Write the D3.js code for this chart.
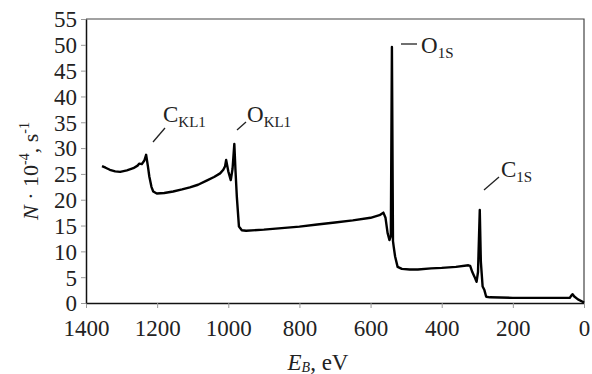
<!DOCTYPE html>
<html>
<head>
<meta charset="utf-8">
<script src="https://cdn.jsdelivr.net/npm/d3@7"></script>
<style>
  body { margin: 0; background: #fff; }
  text { font-family: "Liberation Serif", "Times New Roman", serif; fill: #222; }
</style>
</head>
<body>
<svg id="chart" width="592" height="374"></svg>
<script>
// XPS survey spectrum, binding energy (eV) vs counts (x10^4 /s)
const energy = [1355, 1345, 1333, 1318, 1304, 1285, 1267, 1255, 1250, 1243, 1236, 1231, 1226, 1222, 1216, 1211, 1201, 1180, 1155, 1130, 1108, 1085, 1061, 1040, 1023, 1014, 1009, 1006, 1000, 993, 988, 983, 980, 976, 970, 962, 950, 900, 850, 800, 750, 700, 650, 600, 575, 564, 558, 552, 547, 543, 540, 537, 535, 531, 524, 512, 490, 467, 430, 400, 360, 325, 320, 314, 308, 302, 298, 293, 290, 285, 280, 275, 264, 200, 120, 40, 35, 32, 28, 17, 0];
const counts = [26.5, 26.2, 25.8, 25.5, 25.4, 25.7, 26.1, 26.6, 27.0, 26.9, 27.6, 28.7, 26.5, 24.5, 22.5, 21.6, 21.2, 21.3, 21.6, 22.0, 22.4, 22.9, 23.7, 24.4, 25.1, 25.8, 26.5, 27.7, 25.5, 23.8, 26.0, 30.8, 26.0, 20.6, 14.8, 14.1, 14.0, 14.2, 14.5, 14.8, 15.2, 15.6, 16.0, 16.5, 17.0, 17.5, 16.5, 13.5, 12.2, 13.0, 49.6, 12.0, 10.9, 9.0, 7.0, 6.6, 6.5, 6.5, 6.7, 6.8, 7.0, 7.3, 7.2, 6.0, 5.1, 4.1, 6.0, 18.0, 8.0, 3.2, 2.5, 1.2, 1.1, 1.0, 1.0, 1.0, 1.5, 1.7, 1.3, 0.7, 0.1];

const xTicks = [1400, 1200, 1000, 800, 600, 400, 200, 0];
const yTicks = [0, 5, 10, 15, 20, 25, 30, 35, 40, 45, 50, 55];

// peak labels
const peakNames = ["C", "O", "O", "C"];
const peakSubs = ["KL1", "KL1", "1S", "1S"];

const margin = { top: 19, right: 8, bottom: 71, left: 86 };
const W = 592, H = 374;
const w = W - margin.left - margin.right;
const h = H - margin.top - margin.bottom;

const svg = d3.select("#chart");
const g = svg.append("g").attr("transform", `translate(${margin.left},${margin.top})`);

const x = d3.scaleLinear().domain([1400, 0]).range([0, w]);
const y = d3.scaleLinear().domain([0, 55]).range([h, 0]);

// frame (top/right)
g.append("path")
  .attr("d", `M0,0H${w}V${h}`)
  .attr("fill", "none")
  .attr("stroke", "#444")
  .attr("stroke-width", 1.2);

const xAxis = g.append("g")
  .attr("transform", `translate(0,${h})`)
  .call(d3.axisBottom(x).tickValues(xTicks).tickFormat(d3.format("d"))
    .tickSize(5).tickSizeOuter(0).tickPadding(12));
const yAxis = g.append("g")
  .call(d3.axisLeft(y).tickValues(yTicks).tickFormat(d3.format("d"))
    .tickSize(5).tickSizeOuter(0).tickPadding(4));

[xAxis, yAxis].forEach(a => {
  a.attr("font-family", null).attr("font-size", null);
  a.select(".domain").attr("stroke", "#111").attr("stroke-width", 1.5);
  a.selectAll(".tick line").attr("stroke", "#999");
  a.selectAll(".tick text")
    .style("font-size", "23px")
    .attr("fill", "#222");
});
yAxis.selectAll(".tick text").attr("dy", "0.34em");

// spectrum line
const pts = energy.map((e, i) => [e, counts[i]]);
g.append("path")
  .datum(pts)
  .attr("fill", "none")
  .attr("stroke", "#000")
  .attr("stroke-width", 2.4)
  .attr("stroke-linejoin", "round")
  .attr("d", d3.line().x(d => x(d[0])).y(d => y(d[1])));

// annotations
const ann = [
  { tx: 163, ty: 122, line: [[153, 142], [165, 128]] },
  { tx: 247, ty: 122, line: [[237, 130], [246, 122]] },
  { tx: 421, ty: 53, line: [[401, 44], [417, 44]] },
  { tx: 501, ty: 177, line: [[484, 190], [499, 177]] }
];
ann.forEach((a, i) => {
  svg.append("line")
    .attr("x1", a.line[0][0]).attr("y1", a.line[0][1])
    .attr("x2", a.line[1][0]).attr("y2", a.line[1][1])
    .attr("stroke", "#222").attr("stroke-width", 1.3);
  const t = svg.append("text").attr("x", a.tx).attr("y", a.ty).style("font-size", "23px");
  t.append("tspan").text(peakNames[i]);
  t.append("tspan").attr("dy", 5).style("font-size", "15px").text(peakSubs[i]);
});

// y label
const yl = svg.append("text")
  .attr("transform", "translate(38,171) rotate(-90)")
  .attr("text-anchor", "middle")
  .style("font-size", "22px");
yl.append("tspan").style("font-style", "italic").text("N");
yl.append("tspan").text(" · 10");
yl.append("tspan").attr("dy", -9).style("font-size", "14px").text("-4");
yl.append("tspan").attr("dy", 9).text(", s");
yl.append("tspan").attr("dy", -9).style("font-size", "14px").text("-1");

// x label
const xl = svg.append("text")
  .attr("x", 318).attr("y", 370)
  .attr("text-anchor", "middle")
  .style("font-size", "23px");
xl.append("tspan").style("font-style", "italic").text("E");
xl.append("tspan").attr("dy", 2).style("font-size", "14px").style("font-style", "italic").text("B");
xl.append("tspan").attr("dy", -2).text(", eV");
</script>
</body>
</html>
